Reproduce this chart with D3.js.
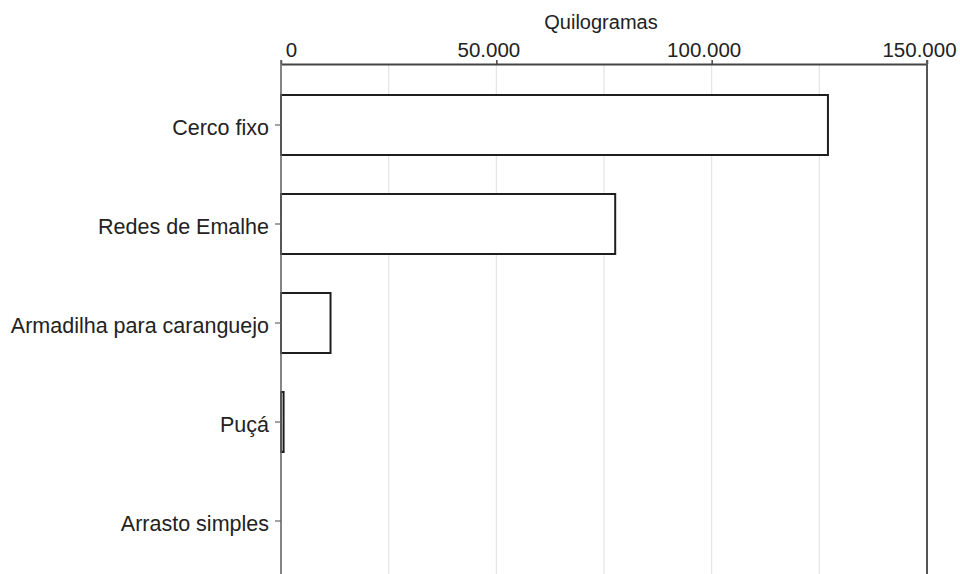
<!DOCTYPE html>
<html>
<head>
<meta charset="utf-8">
<script src="https://cdn.jsdelivr.net/npm/d3@7"></script>
<style>
  html, body { margin: 0; padding: 0; background: #fff; }
  svg { display: block; font-family: "Liberation Sans", Arial, sans-serif; }
</style>
</head>
<body>
<svg id="chart" width="960" height="574"></svg>
<script>
const categories = ["Cerco fixo", "Redes de Emalhe", "Armadilha para caranguejo", "Puçá", "Arrasto simples"];
const values = [127000, 77600, 11500, 600, 0];
const majorTicks = [0, 50000, 100000, 150000];
const tickLabels = ["0", "50.000", "100.000", "150.000"];
const gridTicks = [25000, 50000, 75000, 100000, 125000];
const axisTitle = "Quilogramas";

const svg = d3.select("#chart");
const mLeft = 281, mRight = 927, axisY = 64, bandTop = 66, bandBottom = 580;

const x = d3.scaleLinear().domain([0, 150000]).range([mLeft, mRight]);
const y = d3.scaleBand().domain(categories).range([bandTop, bandBottom])
  .paddingInner(0.394).paddingOuter(0.293);

// gridlines
svg.append("g").selectAll("line").data(gridTicks).join("line")
  .attr("x1", d => x(d)).attr("x2", d => x(d))
  .attr("y1", axisY).attr("y2", 574)
  .attr("stroke", "#e4e4e4").attr("stroke-width", 1.2);

// bars
svg.append("g").selectAll("rect").data(categories).join("rect")
  .attr("x", x(0))
  .attr("y", d => y(d))
  .attr("width", (d, i) => x(values[i]) - x(0))
  .attr("height", y.bandwidth())
  .attr("fill", "#fff")
  .attr("stroke", (d, i) => values[i] > 0 ? "#1e1e1e" : "none")
  .attr("stroke-width", 2);

// top axis
const xAxis = d3.axisTop(x).tickValues(majorTicks)
  .tickFormat((d, i) => tickLabels[i]).tickSize(4).tickSizeOuter(0);
const gx = svg.append("g").attr("transform", `translate(0,${axisY})`).call(xAxis);
gx.select(".domain").attr("stroke", "#444").attr("stroke-width", 2);
gx.selectAll(".tick line").attr("stroke", "#444").attr("stroke-width", 1.5);
gx.selectAll(".tick text").attr("font-size", 20.5).attr("fill", "#222")
  .attr("dx", (d, i) => i === 0 ? 10 : -8).attr("y", -7);

// left axis
const yAxis = d3.axisLeft(y).tickSize(6).tickSizeOuter(0).tickPadding(6);
const gy = svg.append("g").attr("transform", `translate(${mLeft},0)`).call(yAxis);
gy.select(".domain").attr("stroke", "#666").attr("stroke-width", 1.6)
  .attr("d", `M0,${axisY - 4}V574`);
gy.selectAll(".tick line").attr("stroke", "#666").attr("stroke-width", 1.2);
gy.selectAll(".tick text").attr("font-size", 21.5).attr("fill", "#222").attr("dy", "0.45em");

// right border
svg.append("line")
  .attr("x1", x(150000)).attr("x2", x(150000))
  .attr("y1", axisY - 4).attr("y2", 574)
  .attr("stroke", "#555").attr("stroke-width", 2);

// title
svg.append("text")
  .attr("x", (mLeft + mRight) / 2 - 3).attr("y", 29)
  .attr("text-anchor", "middle")
  .attr("font-size", 20).attr("fill", "#222")
  .text(axisTitle);
</script>
</body>
</html>
